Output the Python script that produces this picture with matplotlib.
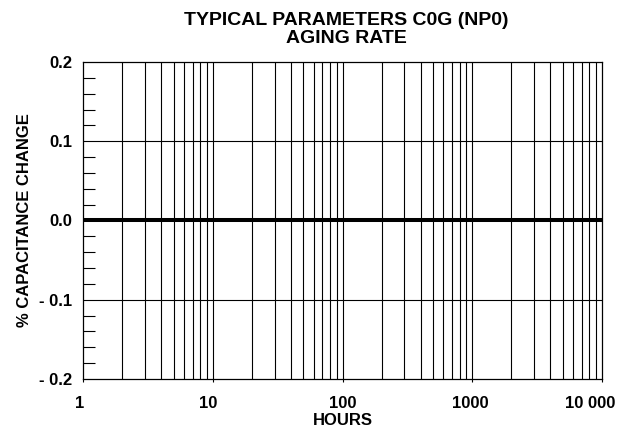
import matplotlib
matplotlib.use("Agg")
import matplotlib.pyplot as plt
from matplotlib.ticker import FixedLocator, NullFormatter
from matplotlib.transforms import ScaledTranslation

plt.rcParams['font.family'] = ['Liberation Sans', 'DejaVu Sans']
plt.rcParams['font.weight'] = 'bold'

# data: capacitance change stays flat over the whole time span
hours = [1, 10000]
cap_change = [0.0, 0.0]

x_ticks = [1, 10, 100, 1000, 10000]
x_labels = ["1", "10", "100", "1000", "10 000"]
y_ticks = [-0.2, -0.1, 0.0, 0.1, 0.2]
y_labels = ["- 0.2", "- 0.1", "0.0", "0.1", "0.2"]
y_minor = [-0.18, -0.16, -0.14, -0.12, -0.08, -0.06, -0.04, -0.02,
           0.02, 0.04, 0.06, 0.08, 0.12, 0.14, 0.16, 0.18]

fig = plt.figure(figsize=(6.18, 4.29), dpi=100)
ax = fig.add_axes([83 / 618, 1 - 379 / 429, 519 / 618, 317 / 429])

ax.set_xscale('log')
ax.set_xlim(1, 10000)
ax.set_ylim(-0.2, 0.2)

# vertical grid at 2..10 of every decade
grid_x = sorted(set(m * 10 ** d for d in range(4) for m in range(2, 11)))
for gx in grid_x:
    if gx < 10000:
        ax.axvline(gx, color='black', lw=0.8, zorder=1)
for gy in [-0.1, 0.1]:
    ax.axhline(gy, color='black', lw=0.8, zorder=1)

ax.plot(hours, cap_change, color='black', lw=2.9, solid_capstyle='butt', zorder=3)

ax.set_xticks(x_ticks)
ax.set_xticklabels(x_labels, fontsize=12, fontweight='bold')
ax.xaxis.set_minor_locator(FixedLocator([]))
ax.xaxis.set_minor_formatter(NullFormatter())
ax.tick_params(axis='x', which='major', direction='out', length=2.2, width=0.8, pad=10)
shifts = [-3, -5, 0, -2, -12]
for lbl, dx in zip(ax.get_xticklabels(), shifts):
    lbl.set_transform(lbl.get_transform() + ScaledTranslation(dx / 100, 0, fig.dpi_scale_trans))

ax.set_yticks(y_ticks)
ax.set_yticklabels(y_labels, fontsize=12, fontweight='bold')
ax.yaxis.set_minor_locator(FixedLocator(y_minor))
ax.tick_params(axis='y', which='major', length=0, pad=8)
ax.tick_params(axis='y', which='minor', direction='in', length=8.6, width=0.8)

for sp in ax.spines.values():
    sp.set_linewidth(0.9)

ax.set_xlabel("HOURS", fontsize=12, fontweight='bold')
ax.xaxis.set_label_coords(0.5, -0.108)
ax.set_ylabel("% CAPACITANCE CHANGE", fontsize=12, fontweight='bold', labelpad=5)

fig.text(346 / 618, 1 - 12 / 429, "TYPICAL PARAMETERS C0G (NP0)\nAGING RATE",
         fontsize=14, fontweight='bold', ha='center', va='top', linespacing=1.1)

fig.savefig("out.png", dpi=100)
